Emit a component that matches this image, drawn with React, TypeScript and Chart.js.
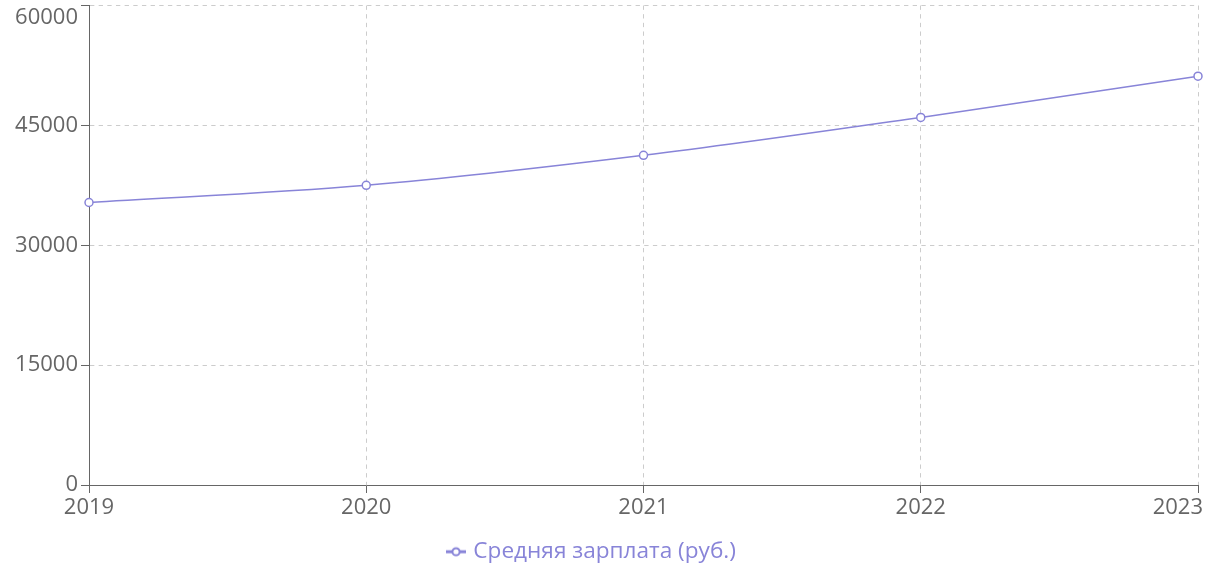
import React, { useEffect, useRef } from "react";
import { Chart, registerables } from "chart.js";

Chart.register(...registerables);

const years = ["2019", "2020", "2021", "2022", "2023"];
const salary = [35350, 37500, 41250, 46000, 51150];
const seriesLabel = "Средняя зарплата (руб.)";
const yMin = 0;
const yMax = 60000;
const yStep = 15000;

const LINE_COLOR = "#8884d8";
const AXIS_COLOR = "#666";
const GRID_COLOR = "#ccc";
const FONT = "'Open Sans', 'Noto Sans', sans-serif";
const DASH = [4.33, 4.33];

function makeLegendIcon(): HTMLCanvasElement {
  const c = document.createElement("canvas");
  c.width = 20;
  c.height = 12;
  const ctx = c.getContext("2d")!;
  ctx.strokeStyle = LINE_COLOR;
  ctx.lineWidth = 3;
  ctx.beginPath();
  ctx.moveTo(0, 6);
  ctx.lineTo(20, 6);
  ctx.stroke();
  ctx.beginPath();
  ctx.arc(10, 6, 3.6, 0, Math.PI * 2);
  ctx.fillStyle = "#fff";
  ctx.fill();
  ctx.lineWidth = 2;
  ctx.stroke();
  return c;
}

const labelTweak = {
  id: "labelTweak",
  beforeDraw(chart: any) {
    const xs = chart.scales.x;
    const ys = chart.scales.y;
    const xi = xs.getLabelItems(chart.chartArea);
    if (xi.length) {
      const last = xi[xi.length - 1];
      last.options.textAlign = "right";
      last.options.translation[0] = chart.width - 3;
    }
    const yi = ys.getLabelItems(chart.chartArea);
    if (yi.length) {
      const top = yi[yi.length - 1];
      top.options.translation[1] = chart.chartArea.top + 12;
    }
  },
  afterLayout(chart: any) {
    const lg = chart.legend;
    if (lg) {
      const dx = -6;
      lg.left += dx;
      lg.right += dx;
      lg.top += 7;
      lg.bottom += 7;
    }
  },
};

export default function App() {
  const ref = useRef<HTMLCanvasElement | null>(null);
  useEffect(() => {
    if (!ref.current) return;
    const icon = makeLegendIcon();
    const chart = new Chart(ref.current, {
      type: "line",
      data: {
        labels: years,
        datasets: [
          {
            label: seriesLabel,
            data: salary,
            borderColor: LINE_COLOR,
            backgroundColor: "#fff",
            borderWidth: 1.5,
            cubicInterpolationMode: "monotone",
            pointRadius: 4,
            pointBorderWidth: 1.5,
            pointBackgroundColor: "#fff",
            pointBorderColor: LINE_COLOR,
            fill: false,
          },
        ],
      },
      options: {
        animation: false,
        responsive: true,
        maintainAspectRatio: false,
        layout: { padding: { left: 0, right: 8, top: 5, bottom: 5 } },
        plugins: {
          legend: {
            position: "bottom",
            labels: {
              usePointStyle: true,
              pointStyle: icon as any,
              pointStyleWidth: 12,
              color: LINE_COLOR,
              padding: 10,
              font: { family: FONT, size: 22.6 },
            },
          },
          tooltip: { enabled: false },
        },
        scales: {
          x: {
            offset: false,
            grid: {
              color: GRID_COLOR,
              tickColor: AXIS_COLOR,
              tickBorderDash: [],
              tickLength: 8,
              drawTicks: true,
            } as any,
            border: { color: AXIS_COLOR, width: 1, dash: DASH },
            ticks: {
              color: AXIS_COLOR,
              padding: 2,
              maxRotation: 0,
              autoSkip: false,
              font: { family: FONT, size: 22 },
            },
            afterFit(scale: any) {
              scale.paddingLeft = 0;
              scale.paddingRight = 0;
            },
          },
          y: {
            min: yMin,
            max: yMax,
            grid: {
              color: GRID_COLOR,
              tickColor: AXIS_COLOR,
              tickBorderDash: [],
              tickLength: 8,
            } as any,
            border: { color: AXIS_COLOR, width: 1, dash: DASH },
            ticks: {
              stepSize: yStep,
              color: AXIS_COLOR,
              padding: 3,
              font: { family: FONT, size: 22 },
              callback: (v: any) => String(v),
            },
            afterFit(scale: any) {
              scale.width = 89;
              scale.paddingTop = 0;
              scale.paddingBottom = 0;
            },
          },
        },
      },
      plugins: [labelTweak],
    });
    return () => chart.destroy();
  }, []);
  return (
    <div style={{ position: "fixed", left: 0, top: 0, width: 1206, height: 571, background: "#fff" }}>
      <canvas ref={ref} />
    </div>
  );
}
